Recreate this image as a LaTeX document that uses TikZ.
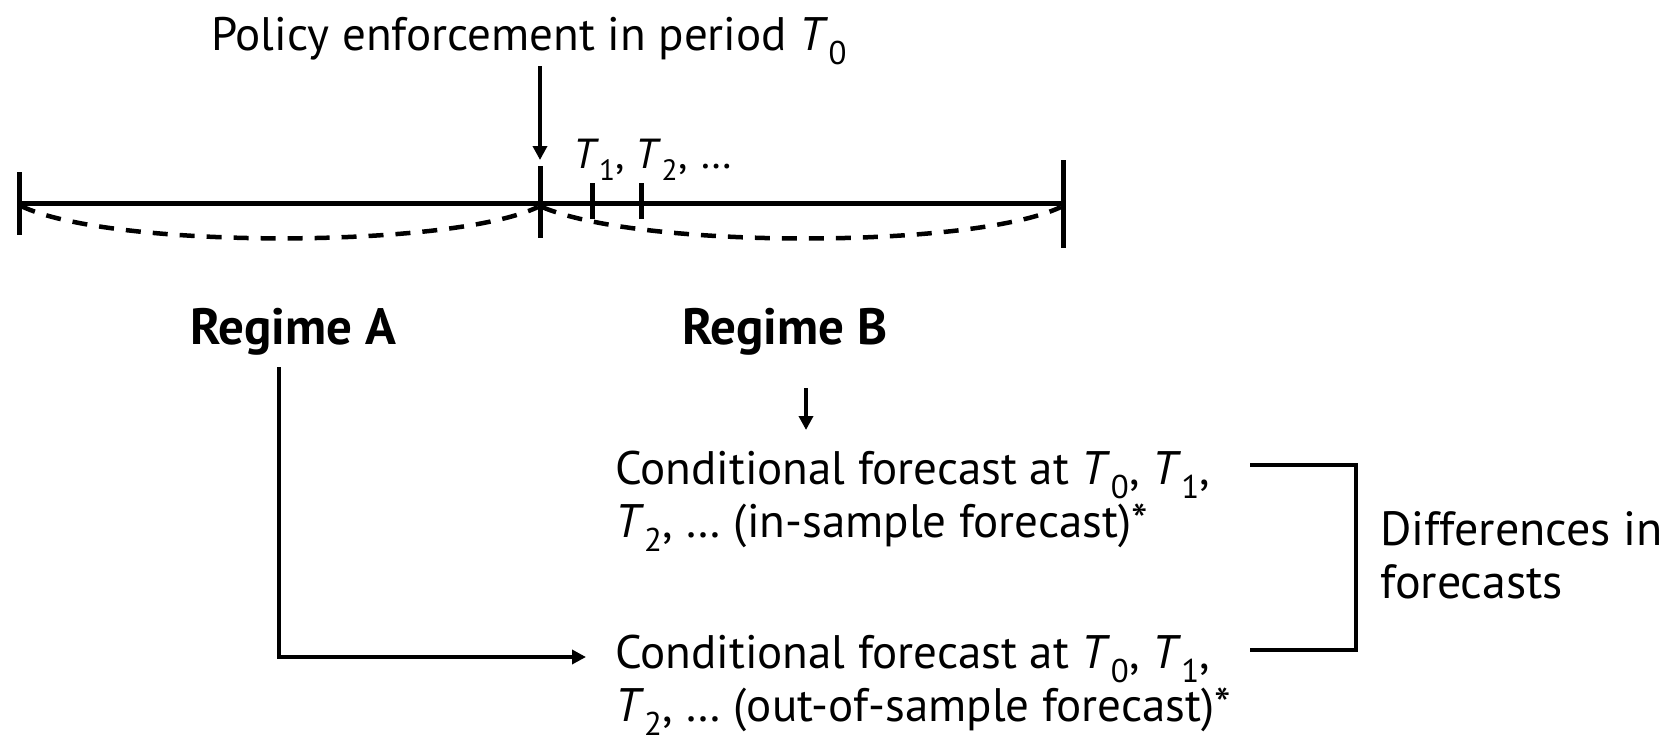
\documentclass[tikz,border=0pt]{standalone}
\usepackage{fontspec}
\setmainfont{PT Sans}
\usetikzlibrary{arrows.meta}
\newcommand{\Tsub}[1]{\textit{T\/}\textsubscript{#1}}
\begin{document}
\begin{tikzpicture}[x=1pt,y=-1pt,
  txt/.style={inner sep=0pt, anchor=base west, font=\fontsize{47}{53}\selectfont, align=left},
  smalltxt/.style={inner sep=0pt, anchor=base west, font=\fontsize{42}{50}\selectfont},
  boldtxt/.style={inner sep=0pt, anchor=base west, font=\fontsize{51}{56}\selectfont\bfseries},
  bar/.style={line width=5pt},
  conn/.style={line width=4.2pt, -{Triangle[length=14pt,width=14pt]}},
  plain/.style={line width=4.2pt},
  dasharc/.style={line width=4.5pt, dash pattern=on 15pt off 12pt}]
\useasboundingbox (0,0) rectangle (1666,744);

% title and arrow
\node[txt] (title) at (211,50) {Policy enforcement in period \Tsub{0}};
\coordinate (pa) at (540,66);
\coordinate (pb) at (540,160);
\draw[conn] (pa) -- (pb);

% timeline
\coordinate (L) at (19,203);
\coordinate (M) at (540,203);
\coordinate (R) at (1063,203);
\draw[bar] (L) -- (R);
\draw[bar] (19,172) -- (19,235);
\draw[bar] (1063,160) -- (1063,248);
\draw[bar] (540,166) -- (540,238);
\coordinate (t1) at (592,203);
\coordinate (t2) at (641,203);
\draw[bar] ([yshift=-16pt]t1) -- ([yshift=20pt]t1);
\draw[bar] ([yshift=-16pt]t2) -- ([yshift=20pt]t2);
\node[smalltxt] (tlab) at (573,168) {\Tsub{1},\hspace{0.25em}\Tsub{2},\hspace{0.3em}\ldots};

% dashed arcs
\draw[dasharc] (21,206) .. controls (110,249) and (450,249) .. (538,207);
\draw[dasharc] (542,207) .. controls (640,249) and (972,249) .. (1061,207);

% regimes
\node[boldtxt] (ra) at (190,344) {Regime A};
\node[boldtxt] (rb) at (682,344) {Regime B};

% forecasts (anchor at baseline of last line)
\node[txt] (f1) at (615,537) {Conditional forecast at \Tsub{0}, \Tsub{1},\\\Tsub{2}, \ldots\ (in-sample forecast)*};
\node[txt] (f2) at (615,721) {Conditional forecast at \Tsub{0}, \Tsub{1},\\\Tsub{2}, \ldots\ (out-of-sample forecast)*};
\node[txt, font=\fontsize{48}{53}\selectfont] (diff) at (1380,598) {Differences in\\forecasts};

% connectors
\coordinate (rbs) at (806,388);
\coordinate (rbe) at (806,430);
\draw[conn] (rbs) -- (rbe);
\coordinate (ras) at (279,367);
\coordinate (rae) at (586,657);
\draw[conn] (ras) |- (rae);

% bracket
\coordinate (b1) at (1250,465);
\coordinate (b2) at (1250,650);
\draw[plain] (b1) -- (1356,465) -- (1356,650) -- (b2);
\end{tikzpicture}
\end{document}
